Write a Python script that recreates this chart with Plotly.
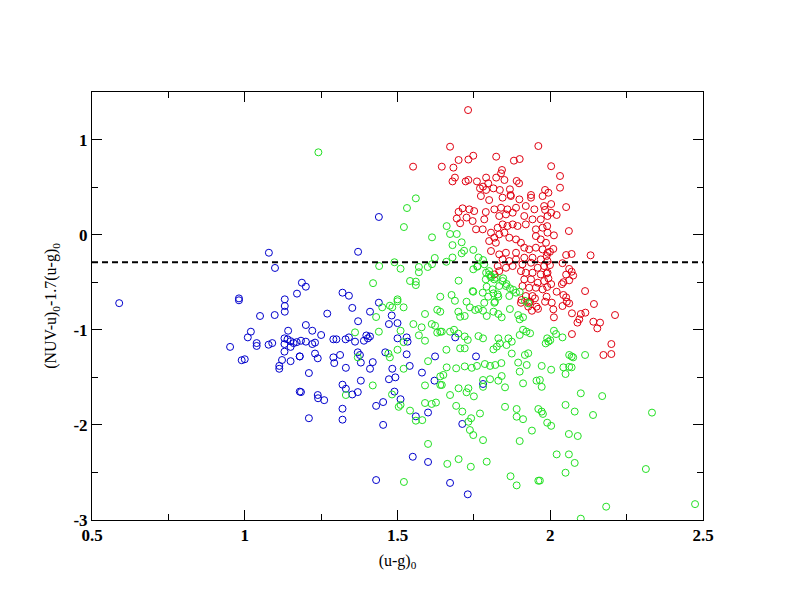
import plotly.graph_objects as go

# ---------------- data ----------------
blue_x = [1.079, 1.099, 1.187, 1.171, 0.589, 0.981, 0.981, 1.131, 1.131, 1.131, 1.050, 1.098,
          1.142, 1.020, 1.010, 0.952, 1.039, 1.039, 1.078, 1.090, 1.130, 1.140, 1.150, 1.160,
          1.170, 1.130, 1.150, 1.130, 1.180, 0.990, 1.000, 1.122, 1.150, 1.113, 1.113, 1.180,
          1.439, 1.352, 1.410, 1.270, 1.481, 1.371, 1.200, 1.472, 1.500, 1.221, 1.250, 1.184,
          1.200, 1.221, 1.230, 1.290, 1.300, 1.330, 1.341, 1.361, 1.390, 1.398, 1.403, 1.410,
          1.500, 1.530, 1.533, 1.370, 1.377, 1.460, 1.530, 1.180, 1.230, 1.239, 1.290, 1.293,
          1.312, 1.380, 1.419, 1.410, 1.331, 1.483, 1.540, 1.210, 1.580, 1.623, 1.493, 1.472,
          1.380, 1.621, 1.320, 1.331, 1.370, 1.352, 1.490, 1.184, 1.239, 1.240, 1.260, 1.510,
          1.453, 1.430, 1.320, 1.560, 1.600, 1.210, 1.320, 1.453, 1.550, 1.600, 1.430,
          1.439, 1.371, 1.200, 1.320, 1.341,
          1.689, 1.757, 1.780, 1.712, 1.672, 1.730]
blue_y = [-0.19, -0.35, -0.505, -0.62, -0.72, -0.67, -0.69, -0.68, -0.75, -0.81, -0.855, -0.845,
          -1.01, -1.02, -1.08, -1.18, -1.14, -1.17, -1.157, -1.14, -1.09, -1.10, -1.12, -1.14,
          -1.13, -1.15, -1.18, -1.23, -1.28, -1.32, -1.31, -1.318, -1.33, -1.38, -1.41, -1.65,
          -0.715, -0.77, -0.81, -0.83, -0.85, -0.91, -0.95, -0.94, -0.93, -1.01, -1.055, -1.115,
          -1.125, -1.15, -1.135, -1.10, -1.10, -1.10, -1.08, -1.125, -1.115, -1.06, -1.09, -1.07,
          -1.09, -1.08, -1.125, -1.237, -1.265, -1.237, -1.258, -1.28, -1.25, -1.30, -1.29, -1.35,
          -1.265, -1.345, -1.34, -1.41, -1.40, -1.41, -1.38, -1.455, -1.45, -1.28, -1.50, -1.52,
          -1.535, -1.535, -1.577, -1.62, -1.655, -1.68, -1.65, -1.655, -1.686, -1.72, -1.74, -1.73,
          -1.76, -1.80, -1.83, -1.91, -1.87, -1.93, -1.945, -2.00, -2.335, -2.39, -2.58,
          0.186, -0.18, -0.547, -0.61, -0.642,
          -1.08, -1.28, -1.57, -1.99, -2.61, -2.73]

green_x = [1.241, 1.560, 1.531, 1.521, 1.613, 1.622, 1.490, 1.440, 1.510, 1.570, 1.570, 1.599,
           1.613, 1.420, 1.541, 1.560, 1.560, 1.500,
           1.450, 1.475, 1.483, 1.500, 1.520, 1.430, 1.590, 1.630, 1.552, 1.579, 1.612, 1.623,
           1.630, 1.510, 1.439, 1.361, 1.570, 1.590, 1.520, 1.500, 1.470, 1.475, 1.370, 1.600,
           1.520, 1.640, 1.640, 1.590, 1.419, 1.482, 1.331, 1.504, 1.510, 1.541, 1.590, 1.612,
           1.626, 1.560, 1.581, 1.600, 1.521,
           1.661,
           1.672, 1.694, 1.710, 1.718, 1.710, 1.680, 1.748, 1.765, 1.780, 1.680, 1.660, 1.748,
           1.761, 1.790, 1.800, 1.806, 1.817, 1.846, 1.857, 1.868, 1.879, 1.700, 1.792, 1.814,
           1.830, 1.797, 1.819, 1.748, 1.900, 1.917, 1.928, 1.677, 1.688, 1.640, 1.726, 1.737,
           1.754, 1.765, 1.780, 1.792, 1.814, 1.830, 1.841, 1.868, 1.895, 1.900, 1.911, 1.699,
           1.705, 1.720, 1.640, 1.645, 1.672, 1.685, 1.699, 1.720, 1.730, 1.765, 1.780, 1.830,
           1.835, 1.814, 1.825, 1.863, 1.874, 1.857, 1.911, 1.922, 1.900, 1.934, 1.720, 1.705,
           1.874, 1.917, 1.928, 1.660, 1.640,
           1.762, 1.784, 1.800, 1.806, 1.789, 1.822, 1.844, 1.855, 1.833, 1.811, 1.746, 1.779,
           1.828, 1.866, 1.888, 1.817, 1.784,
           1.661, 1.692, 1.720, 1.743, 1.760, 1.786, 1.803, 1.820, 1.840, 1.895, 1.923, 1.900,
           1.650, 1.645, 1.672, 1.700, 1.732, 1.726, 1.750, 1.780, 1.803, 1.780, 1.830, 1.841,
           1.852, 1.911, 1.955, 1.692, 1.712, 1.770, 1.741, 1.732, 1.852, 1.890, 1.890, 1.911,
           1.961, 1.737, 1.748, 1.780, 1.940, 1.900, 1.663, 1.700, 1.740, 1.792, 1.870, 1.890,
           1.961,
           2.012, 2.019, 2.040, 1.990, 1.985, 1.994, 2.000, 2.062, 2.070, 2.075, 2.114, 1.972,
           2.003, 2.043, 2.062, 2.070, 2.050, 1.966, 1.972,
           2.100, 2.170, 2.050, 2.080, 2.140, 1.972, 1.976, 1.990, 2.003, 2.333, 2.061, 2.090,
           2.021, 2.061, 2.080, 2.050, 1.966, 2.313, 2.183, 2.474, 2.100]
green_y = [0.866, 0.382, 0.280, 0.080, -0.028, -0.245, -0.290, -0.330, -0.358, -0.340, -0.395, -0.340,
           -0.310, -0.510, -0.487, -0.494, -0.530, -0.680,
           -0.764, -0.747, -0.764, -0.700, -0.764, -0.866, -0.834, -0.790, -0.940, -0.974, -0.940, -0.957,
           -1.030, -1.010, -1.020, -1.027, -1.058, -1.115, -1.130, -1.210, -1.250, -1.290, -1.290, -1.330,
           -1.410, -1.490, -1.580, -1.585, -1.585, -1.680, -1.686, -1.810, -1.790, -1.850, -1.770, -1.780,
           -1.765, -1.956, -1.950, -2.200, -2.600,
           0.090,
           0.007, 0.007, -0.080, -0.169, -0.196, -0.110, -0.160, -0.240, -0.267, -0.240, -0.285, -0.364,
           -0.337, -0.400, -0.420, -0.450, -0.470, -0.459, -0.519, -0.564, -0.580, -0.484, -0.547, -0.617,
           -0.652, -0.652, -0.705, -0.600, -0.600, -0.695, -0.722, -0.634, -0.695, -0.652, -0.705, -0.764,
           -0.792, -0.782, -0.800, -0.855, -0.810, -0.834, -0.869, -0.782, -0.845, -0.890, -0.869, -0.810,
           -0.863, -0.855, -0.810, -1.020, -1.020, -1.000, -1.040, -1.070, -1.107, -1.066, -1.090, -1.090,
           -1.143, -1.206, -1.177, -1.090, -1.125, -1.160, -1.000, -1.020, -1.055, -1.037, -1.195, -1.195,
           -1.250, -1.265, -1.247, -1.210, -1.020,
           -0.330, -0.312, -0.383, -0.435, -0.470, -0.453, -0.488, -0.540, -0.540, -0.575, -0.593, -0.610,
           -0.628, -0.645, -0.610, -0.716, -0.716,
           -1.395, -1.405, -1.385, -1.400, -1.380, -1.360, -1.380, -1.370, -1.350, -1.345, -1.370, -1.440,
           -1.475, -1.580, -1.686, -1.615, -1.615, -1.657, -1.700, -1.600, -1.520, -1.528, -1.535, -1.486,
           -1.605, -1.563, -1.535, -1.800, -1.860, -1.880, -1.930, -1.967, -1.810, -1.833, -1.914, -1.940,
           -1.833, -2.054, -2.107, -2.160, -2.060, -2.170, -2.410, -2.360, -2.440, -2.387, -2.540, -2.636,
           -2.587,
           -1.010, -1.045, -1.080, -1.090, -1.143, -1.125, -1.110, -1.265, -1.280, -1.290, -1.265, -1.380,
           -1.420, -1.395, -1.390, -1.395, -1.465, -1.528, -1.600,
           -1.668, -1.697, -1.790, -1.860, -1.896, -1.860, -1.885, -1.977, -2.010, -1.871, -2.096, -2.117,
           -2.310, -2.310, -2.400, -2.503, -2.586, -2.464, -2.860, -2.833, -2.986]

red_x = [1.731, 1.672, 1.961, 1.748, 1.732, 1.700, 1.823, 1.881, 1.900, 1.645, 1.683, 1.842,
         1.839, 1.688, 1.680, 1.723, 1.732, 1.760, 1.790, 1.823, 1.850, 1.890, 1.898, 1.770,
         1.780, 1.797, 1.790, 1.814, 1.835, 1.868, 1.870, 1.937, 1.551,
         1.713, 1.700, 1.694, 1.726, 1.705,
         2.003, 2.032, 2.032, 1.983, 1.994, 2.003, 2.052, 1.983, 2.003, 2.021,
         1.990, 2.061, 2.012, 2.010, 1.999, 1.988, 2.052, 2.070, 2.132,
         2.040, 1.999, 1.988, 2.062, 2.070, 2.075, 2.052, 2.062, 2.043, 2.038, 2.003,
         2.021, 2.114, 2.043, 2.052, 2.054, 2.040, 2.062, 1.988, 2.005,
         1.983, 2.010, 2.012, 2.143, 2.071, 2.100, 2.115, 2.095, 2.089, 2.212, 2.141, 2.163,
         2.154, 2.071, 2.200, 2.200, 2.174, 1.994, 1.990,
         1.950, 1.934, 1.928, 1.955, 1.906, 1.940, 1.960,
         1.773, 1.800, 1.844, 1.871, 1.899, 1.937, 1.975, 1.735, 1.751, 1.789, 1.817, 1.839,
         1.860, 1.888, 1.920, 1.948, 1.980, 1.746, 1.784, 1.833, 1.855, 1.877, 1.915, 1.942,
         1.969, 1.991, 1.757, 1.779, 1.806, 1.828, 1.844, 1.860, 1.877, 1.893, 1.920, 1.953,
         1.975, 1.991, 1.817, 1.833, 1.850, 1.866, 1.822, 1.800, 1.888, 1.904, 1.953, 1.969,
         1.986, 1.915, 1.931, 1.953, 1.975, 1.991, 1.833, 1.855, 1.888, 1.806, 1.844, 1.866,
         1.888, 1.915, 1.942, 1.969, 1.991, 1.828, 1.855, 1.877, 1.909, 1.937, 1.959, 1.980,
         1.817, 1.833, 1.904, 1.920, 1.942, 1.969, 1.991, 1.915, 1.937, 1.959, 1.980, 1.909,
         1.931, 1.953, 1.975, 1.920, 1.942, 1.904, 1.931]
red_y = [1.310, 0.925, 0.932, 0.830, 0.790, 0.785, 0.820, 0.778, 0.795, 0.715, 0.705, 0.680,
         0.645, 0.600, 0.560, 0.560, 0.575, 0.560, 0.600, 0.600, 0.575, 0.565, 0.540, 0.487,
         0.505, 0.540, 0.470, 0.487, 0.470, 0.477, 0.417, 0.417, 0.715,
         0.277, 0.240, 0.170, 0.180, 0.120,
         0.720, 0.617, 0.494, 0.470, 0.441, 0.322, 0.290, 0.260, 0.231, 0.207,
         0.090, 0.038, -0.007, -0.150, -0.180, -0.224, -0.214, -0.203, -0.217,
         -0.300, -0.320, -0.408, -0.360, -0.390, -0.430, -0.420, -0.480, -0.500, -0.520, -0.520,
         -0.600, -0.593, -0.634, -0.659, -0.705, -0.750, -0.722, -0.652, -0.715,
         -0.705, -0.785, -0.869, -0.729, -0.827, -0.834, -0.820, -0.890, -0.925, -0.845, -0.915, -0.925,
         -0.985, -1.045, -1.150, -1.255, -1.265, -0.460, -0.550,
         -0.670, -0.705, -0.757, -0.757, -0.687, -0.800, -0.780,
         0.406, 0.364, 0.389, 0.406, 0.371, 0.389, 0.406, 0.266, 0.248, 0.238, 0.266, 0.283,
         0.266, 0.283, 0.301, 0.266, 0.301, 0.143, 0.161, 0.196, 0.213, 0.231, 0.196, 0.161,
         0.161, 0.196, 0.056, 0.056, 0.021, 0.073, 0.108, 0.091, 0.108, 0.091, 0.108, 0.056,
         0.073, 0.021, -0.032, 0.003, 0.021, -0.032, -0.085, -0.067, -0.050, -0.085, -0.015, -0.050,
         -0.085, -0.137, -0.155, -0.137, -0.155, -0.190, -0.207, -0.190, -0.190, -0.172, -0.260, -0.277,
         -0.260, -0.242, -0.242, -0.260, -0.277, -0.330, -0.348, -0.330, -0.312, -0.295, -0.348, -0.330,
         -0.418, -0.383, -0.383, -0.400, -0.400, -0.418, -0.400, -0.470, -0.470, -0.505, -0.488, -0.540,
         -0.558, -0.558, -0.575, -0.645, -0.645, -0.716, -0.716]

cut_y = -0.29
x_range = [0.5, 2.5]
y_range = [-3, 1.5]
x_ticks = [0.5, 1, 1.5, 2, 2.5]
x_tick_text = ["0.5", "1", "1.5", "2", "2.5"]
y_ticks = [-3, -2, -1, 0, 1]
y_tick_text = ["-3", "-2", "-1", "0", "1"]

# ---------------- figure ----------------
def pts(x, y, color):
    return go.Scatter(x=x, y=y, mode="markers", showlegend=False, hoverinfo="skip",
                      marker=dict(symbol="circle-open", size=7, color=color,
                                  line=dict(width=1, color=color)))

fig = go.Figure()
fig.add_trace(pts(blue_x, blue_y, "#0000cc"))
fig.add_trace(pts(red_x, red_y, "#e00010"))
fig.add_trace(pts(green_x, green_y, "#22e022"))
fig.add_trace(go.Scatter(x=x_range, y=[cut_y, cut_y], mode="lines", showlegend=False,
                         hoverinfo="skip", line=dict(color="black", width=2, dash="6px,4px")))

axis_common = dict(showgrid=False, zeroline=False, showline=True, linecolor="black",
                   linewidth=1, mirror="allticks", ticks="inside", tickcolor="black",
                   tickwidth=1, ticklen=10,
                   tickfont=dict(family="Liberation Serif", size=17, color="black", weight="bold"))

fig.update_xaxes(range=x_range, tickmode="array", tickvals=x_ticks, ticktext=x_tick_text,
                 minor=dict(ticks="inside", ticklen=6, dtick=0.25, tick0=0.5, tickcolor="black"),
                 title=dict(text="(u-g)<sub>0</sub>", standoff=10,
                            font=dict(family="Liberation Serif", size=16, color="black")),
                 **axis_common)
fig.update_yaxes(range=y_range, tickmode="array", tickvals=y_ticks, ticktext=y_tick_text,
                 minor=dict(ticks="inside", ticklen=6, dtick=0.5, tick0=0, tickcolor="black"),
                 title=dict(text="(NUV-u)<sub>0</sub>-1.7(u-g)<sub>0</sub>", standoff=12,
                            font=dict(family="Liberation Serif", size=16, color="black")),
                 **axis_common)

fig.update_layout(width=792, height=612, plot_bgcolor="white", paper_bgcolor="white",
                  margin=dict(l=92, r=89, t=92, b=92))

fig.write_html("out.html")
